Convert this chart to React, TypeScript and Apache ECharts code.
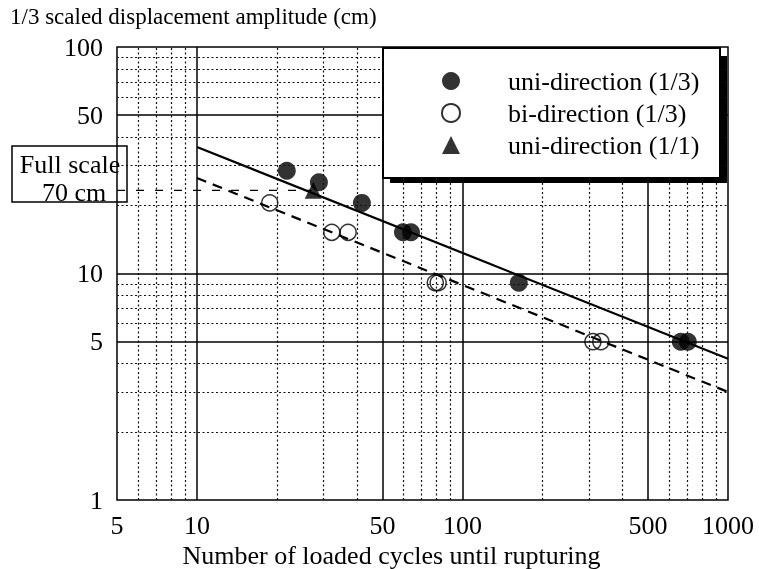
import React, { useEffect, useRef } from "react";
import * as echarts from "echarts";

// tick labels
const xTickValues = [5, 10, 50, 100, 500, 1000];
const yTickValues = [1, 5, 10, 50, 100];
// grid lines
const xMajorGrid = [10, 50, 100, 500];
const xMinorGrid = [6, 7, 8, 9, 20, 30, 40, 60, 70, 80, 90, 200, 300, 400, 600, 700, 800, 900];
const yMajorGrid = [5, 10, 50];
const yMinorGrid = [2, 3, 4, 6, 7, 8, 9, 20, 30, 40, 60, 70, 80, 90];

// series: [cycles, amplitude]
const uniThird = [
  [21.8, 28.4], [28.8, 25.3], [41.8, 20.5], [59.7, 15.2], [64, 15.2],
  [163, 9.1], [664, 5.0], [706, 5.0],
];
const biThird = [
  [18.8, 20.5], [32.2, 15.2], [37.1, 15.2], [79, 9.1], [81, 9.1],
  [310, 5.0], [332, 5.0],
];
const uniFull = [[27.4, 23.3]];
const fitUni = [[10, 36.2], [1000, 4.2]];
const fitBi = [[10, 26.4], [1000, 3.0]];
const fullScaleLine = [[5, 23.3], [27, 23.3]];

const FONT = '"Liberation Serif", "Times New Roman", serif';

export default function App() {
  const ref = useRef<HTMLDivElement>(null);
  useEffect(() => {
    if (!ref.current) return;
    const chart = echarts.init(ref.current, null, { renderer: "svg" });
    const minor = { type: [2, 2.5], color: "#111", width: 1.2 };
    const major = { type: "solid", color: "#000", width: 1.5 };
    const gridLines = [
      ...xMinorGrid.map((v) => ({ xAxis: v, lineStyle: minor })),
      ...yMinorGrid.map((v) => ({ yAxis: v, lineStyle: minor })),
      ...xMajorGrid.map((v) => ({ xAxis: v, lineStyle: major })),
      ...yMajorGrid.map((v) => ({ yAxis: v, lineStyle: major })),
    ];
    const fmt = (v: number) => String(Math.round(v));
    chart.setOption({
      animation: false,
      title: {
        text: "1/3 scaled displacement amplitude (cm)",
        left: 5,
        top: 0,
        textStyle: { fontFamily: FONT, fontSize: 23, fontWeight: "normal", color: "#000" },
      },
      grid: {
        left: 117,
        right: 31,
        top: 47,
        bottom: 69,
        outerBoundsMode: "none",
        containLabel: false,
        show: true,
        borderColor: "#000",
        borderWidth: 1.5,
        backgroundColor: "transparent",
      },
      legend: {
        data: ["uni-direction (1/3)", "bi-direction (1/3)", "uni-direction (1/1)"],
        orient: "vertical",
        left: 383,
        top: 48,
        padding: [20, 18, 20, 58],
        itemGap: 6,
        itemWidth: 18,
        itemHeight: 18,
        selectedMode: false,
        backgroundColor: "#fff",
        borderColor: "#000",
        borderWidth: 2,
        z: 10,
        textStyle: {
          fontFamily: FONT,
          fontSize: 26,
          lineHeight: 25,
          color: "#000",
          width: 194,
          padding: [0, 0, 0, 43],
        },
      },
      graphic: [
        {
          type: "rect",
          z: 5,
          shape: { x: 390, y: 56, width: 337, height: 127 },
          style: { fill: "#000" },
        },
        {
          type: "rect",
          z: 20,
          shape: { x: 12, y: 146, width: 115, height: 56 },
          style: { fill: "transparent", stroke: "#000", lineWidth: 1.5 },
        },
        {
          type: "text",
          z: 20,
          x: 70,
          y: 164,
          style: {
            text: "Full scale",
            fontFamily: FONT,
            fontSize: 26,
            fill: "#000",
            align: "center",
            verticalAlign: "middle",
          },
        },
        {
          type: "text",
          z: 20,
          x: 74,
          y: 192,
          style: {
            text: "70 cm",
            fontFamily: FONT,
            fontSize: 26,
            fill: "#000",
            align: "center",
            verticalAlign: "middle",
          },
        },
      ],
      xAxis: {
        type: "log",
        logBase: 10,
        min: 5,
        max: 1000,
        name: "Number of loaded cycles until rupturing",
        nameLocation: "middle",
        nameGap: 38,
        nameTextStyle: { fontFamily: FONT, fontSize: 26, color: "#000", padding: [0, 62, 0, 0] },
        axisLine: { show: false },
        axisTick: { show: false, customValues: xTickValues },
        splitLine: { show: false },
        axisLabel: {
          customValues: xTickValues,
          formatter: fmt,
          margin: 12,
          fontFamily: FONT,
          fontSize: 26,
          color: "#000",
        },
      },
      yAxis: {
        type: "log",
        logBase: 10,
        min: 1,
        max: 100,
        axisLine: { show: false },
        axisTick: { show: false, customValues: yTickValues },
        splitLine: { show: false },
        axisLabel: {
          customValues: yTickValues,
          formatter: fmt,
          margin: 14,
          fontFamily: FONT,
          fontSize: 26,
          color: "#000",
        },
      },
      series: [
        {
          type: "line",
          name: "grid",
          data: [],
          z: 1,
          silent: true,
          markLine: {
            silent: true,
            symbol: ["none", "none"],
            label: { show: false },
            emphasis: { disabled: true },
            data: gridLines,
          },
        },
        {
          type: "line",
          name: "fit uni",
          data: fitUni,
          symbol: "none",
          z: 3,
          lineStyle: { color: "#000", width: 2.2 },
        },
        {
          type: "line",
          name: "fit bi",
          data: fitBi,
          symbol: "none",
          z: 3,
          lineStyle: { color: "#000", width: 2.2, type: [10, 7] },
        },
        {
          type: "line",
          name: "full scale",
          data: fullScaleLine,
          symbol: "none",
          z: 3,
          lineStyle: { color: "#000", width: 1.3, type: [8, 11] },
        },
        {
          type: "scatter",
          name: "uni-direction (1/3)",
          data: uniThird,
          symbol: "circle",
          symbolSize: 18,
          z: 4,
          itemStyle: { color: "#000" },
        },
        {
          type: "scatter",
          name: "bi-direction (1/3)",
          data: biThird,
          symbol: "circle",
          symbolSize: 16,
          z: 4,
          itemStyle: { color: "rgba(255,255,255,0)", borderColor: "#000", borderWidth: 1.5 },
        },
        {
          type: "scatter",
          name: "uni-direction (1/1)",
          data: uniFull,
          symbol: "triangle",
          symbolSize: 17,
          z: 4,
          itemStyle: { color: "#000" },
        },
      ],
    });
    return () => chart.dispose();
  }, []);
  return (
    <div
      ref={ref}
      style={{ position: "fixed", left: 0, top: 0, width: 759, height: 569 }}
    />
  );
}
